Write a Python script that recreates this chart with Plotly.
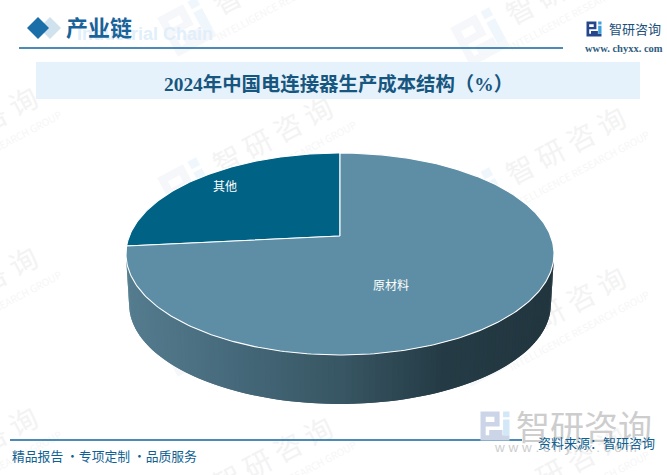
import numpy as np
import plotly.graph_objects as go

W, H = 667, 475

# --- Data ---
SLICE_LABELS = ['其他', '原材料']
SLICE_VALUES = [26.6, 73.4]
TITLE = '2024年中国电连接器生产成本结构（%）'

# --- Palette ---
COLOR_OTHER = '#006285'
COLOR_MATERIAL = '#5d8ea6'
COLOR_LINE = '#0f659c'
COLOR_BAND = '#e5f2fb'
COLOR_TITLE = '#17567f'
COLOR_WM = '#f3f3f3'
WALL_STOPS = [(126, (85, 125, 143)), (230, (70, 106, 123)), (340, (56, 86, 99)),
              (440, (37, 60, 70)), (550, (34, 54, 63))]

SANS = 'Noto Sans CJK SC'
SERIF = 'Liberation Serif, Noto Sans CJK SC'

# --- Pie geometry (screen pixels, tilted disc) ---
CX, APEX_Y, ELL_Y = 340, 236, 254
K, A, B = 0.178, 97.8, 210.6
SHRINK, DROP = 0.985, 50.5


def disc(angle):
    px, py = np.cos(angle), np.sin(angle)
    d = 1 + K * py
    return CX + B * px / d, APEX_Y - A * py / d


def floor(angle):
    x, y = disc(angle)
    return CX + (x - CX) * SHRINK, ELL_Y + (y - ELL_Y) * SHRINK + DROP


def wall_color(x):
    xs = [s[0] for s in WALL_STOPS]
    rgb = [np.interp(x, xs, [s[1][i] for s in WALL_STOPS]) for i in range(3)]
    return 'rgb(%d,%d,%d)' % tuple(rgb)


def logo_shapes(cx, cy, size, angle, dark, light):
    """Company mark made of small rects, rotated around its centre."""
    dark_rects = [(0, 0, .66, .18), (.48, .18, .66, .52), (.18, .36, .48, .52),
                  (0, .18, .18, 1), (.18, .82, 1, 1), (.30, .64, .76, .82)]
    light_rects = [(.78, 0, 1, .2), (.78, .28, 1, .82)]
    rad = np.radians(angle)
    out = []
    for rects, col in ((dark_rects, dark), (light_rects, light)):
        path = ''
        for x0, y0, x1, y1 in rects:
            pts = [(x0, y0), (x1, y0), (x1, y1), (x0, y1)]
            rot = []
            for u, v in pts:
                u, v = (u - .5) * size, (v - .5) * size
                rot.append((cx + u * np.cos(rad) - v * np.sin(rad),
                            cy + u * np.sin(rad) + v * np.cos(rad)))
            path += 'M' + ' L'.join('%.1f,%.1f' % p for p in rot) + ' Z '
        out.append(dict(type='path', path=path, fillcolor=col, line_width=0, layer='below'))
    return out


def label_shape(x, y, text, size, color, angle=0, family=SANS, weight='normal'):
    return dict(type='rect', x0=x - 5, x1=x + 5, y0=y - 5, y1=y + 5, line_width=0,
                fillcolor='rgba(0,0,0,0)', layer='below',
                label=dict(text=text, textangle=angle, textposition='middle center',
                           font=dict(size=size, color=color, family=family, weight=weight)))


# --- Watermark tile ---
shapes = []
TILE_COLS = [(-21, 128), (274, -22), (567, -12)]
for col_x, first_y in TILE_COLS:
    for row in range(4):
        tx, ty = col_x, first_y + row * 160
        if ty > H + 10:
            continue
        shapes.append(label_shape(tx, ty, '智 研 咨 询', 28, COLOR_WM, -28))
        shapes.append(label_shape(tx + 13, ty + 24, 'INTELLIGENCE RESEARCH GROUP', 10, '#f6f6f6', -28))
        shapes += logo_shapes(tx - 87, ty + 49, 44, -28, '#f6f7fa', '#f0f7fc')

# --- Header and footer furniture ---
shapes.append(dict(type='rect', x0=36, x1=640, y0=62, y1=99, fillcolor=COLOR_BAND, line_width=0, layer='below'))
shapes.append(label_shape(145, 32, 'Industrial Chain', 18, '#e1effa', family='Liberation Sans', weight='bold'))
shapes.append(dict(type='path', path='M39,28 L50,17 L61,28 L50,39 Z', fillcolor='#cfe2ee', line_width=0, layer='below'))
shapes.append(dict(type='path', path='M27,28 L38,17 L49,28 L38,39 Z', fillcolor='#1a6fa8', line_width=0, layer='below'))
shapes.append(dict(type='line', x0=19, x1=563, y0=48, y1=48, line=dict(color=COLOR_LINE, width=1.3), layer='below'))
shapes.append(dict(type='line', x0=10, x1=522, y0=440, y1=440, line=dict(color=COLOR_LINE, width=1.3), layer='below'))
shapes += logo_shapes(594, 29, 15, 0, '#26468c', '#3da0dc')
shapes += logo_shapes(495, 426, 29, 0, '#ccd5e7', '#d2e8f6')

fig = go.Figure()

# --- Side wall, slats overlap the next one so no seams show ---
a_left, a_right = np.pi + np.arcsin(K), 2 * np.pi - np.arcsin(K)
slats = np.linspace(a_left, a_right, 121)
for i in range(len(slats) - 1):
    a0, a1 = slats[i], slats[min(i + 2, len(slats) - 1)]
    tx0, ty0 = disc(a0)
    tx1, ty1 = disc(a1)
    bx0, by0 = floor(a0)
    bx1, by1 = floor(a1)
    col = wall_color(tx0)
    fig.add_trace(go.Scatter(x=[tx0, tx1, bx1, bx0, tx0], y=[ty0, ty1, by1, by0, ty0],
                             mode='none', fill='toself', fillcolor=col,
                             hoverinfo='skip', showlegend=False))

# --- Top face, slices run from 12 o'clock ---
total = sum(SLICE_VALUES)
sweep_other = SLICE_VALUES[0] / total * 2 * np.pi
start = np.pi / 2
sectors = [(np.linspace(start, start + sweep_other, 120), COLOR_OTHER),
           (np.linspace(start + sweep_other, start + 2 * np.pi, 300), COLOR_MATERIAL)]
for (angles, col), name, val in zip(sectors, SLICE_LABELS, SLICE_VALUES):
    ex, ey = disc(angles)
    fig.add_trace(go.Scatter(x=np.r_[CX, ex, CX], y=np.r_[APEX_Y, ey, APEX_Y], mode='lines',
                             fill='toself', fillcolor=col, line=dict(color='white', width=1.1),
                             name=name, hovertemplate=f'{name}: {val}%<extra></extra>', showlegend=False))


def note(x, y, text, size, color, family=SANS, weight='normal', anchor='center'):
    return dict(x=x, y=y, text=text, showarrow=False, xanchor=anchor, yanchor='middle',
                font=dict(size=size, color=color, family=family, weight=weight))


annotations = [
    note(99, 28, '产业链', 22, '#1a6399', SERIF, 'bold'),
    note(338.5, 83.5, TITLE, 19.4, COLOR_TITLE, SERIF, 'bold'),
    note(635, 28, '智研咨询', 13, '#1c4f7a'),
    note(623.5, 48, 'www. chyxx. com', 10.5, '#2f5d80', 'Liberation Serif', 'bold'),
    note(10, 455, '精品报告 ・专项定制 ・品质服务', 12.8, '#0f5f92', anchor='left'),
    note(584, 425, '智研咨询', 34, '#cdcdcd'),
    note(565, 447, 'w w w . c h y x x . c o m', 13.5, '#cdcdcd', 'Liberation Sans'),
    note(596, 442, '资料来源：智研咨询', 13, '#0f5f92'),
    note(225, 185.5, SLICE_LABELS[0], 12, 'white'),
    note(391, 284.5, SLICE_LABELS[1], 12, 'white'),
]

fig.update_layout(
    width=W, height=H,
    margin=dict(l=0, r=0, t=0, b=0),
    paper_bgcolor='white', plot_bgcolor='rgba(0,0,0,0)',
    xaxis=dict(range=[0, W], visible=False, fixedrange=True),
    yaxis=dict(range=[H, 0], visible=False, fixedrange=True),
    shapes=shapes,
    annotations=annotations,
)

fig.write_html("out.html", config=dict(displayModeBar=False),
               post_script="document.body.style.margin='0';")
